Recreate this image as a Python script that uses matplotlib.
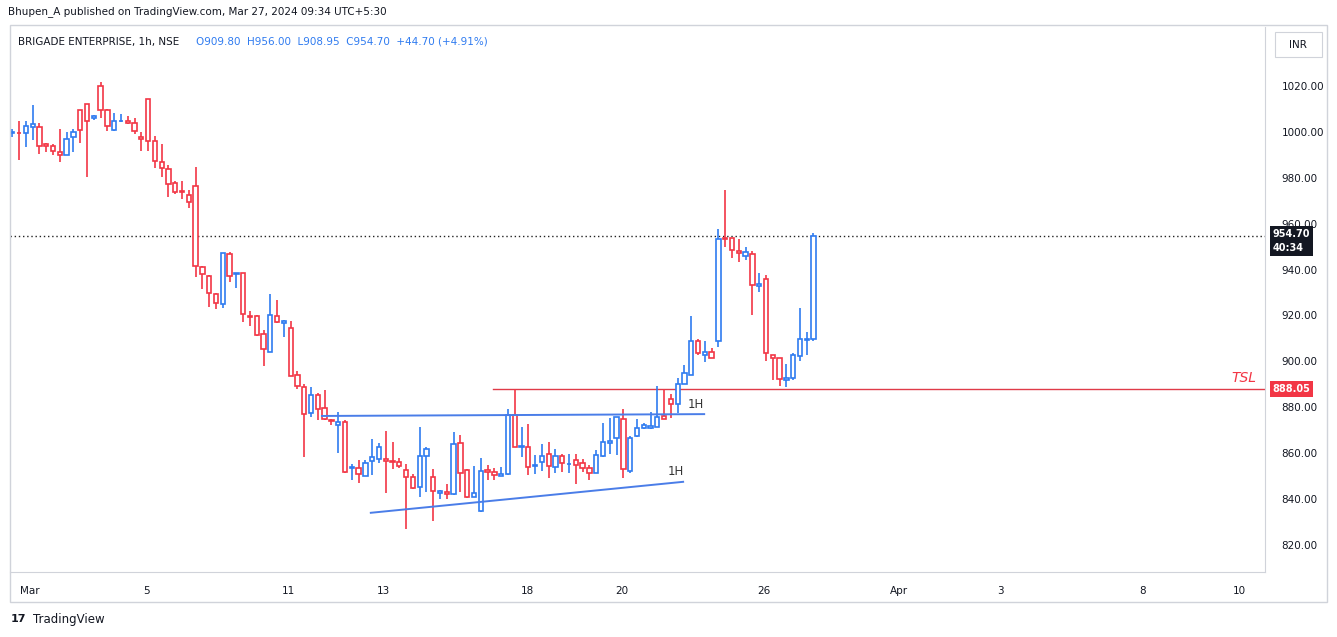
import numpy as np
import matplotlib.pyplot as plt
from matplotlib.patches import Rectangle

# hourly OHLC, BRIGADE ENTERPRISE
opens = [999.4, 999.4, 999.4, 1002.3, 1002.0, 994.6, 993.7, 991.1, 989.8, 997.6,
         1009.4, 1012.0, 1006.0, 1019.9, 1009.4, 1001.0, 1004.6, 1004.6, 1003.7, 997.8,
         1014.2, 995.9, 986.7, 983.7, 977.6, 974.0, 972.4, 976.3, 941.0, 937.1,
         929.2, 924.9, 946.7, 938.2, 938.4, 919.7, 919.6, 911.8, 903.9, 919.6,
         916.6, 914.4, 893.9, 888.7, 877.4, 885.2, 879.6, 874.5, 872.1, 873.4,
         853.4, 853.4, 849.9, 856.5, 857.3, 857.3, 856.5, 856.0, 852.5, 849.5,
         845.1, 858.6, 849.5, 842.5, 843.0, 842.1, 864.3, 852.5, 840.8, 834.7,
         852.5, 851.7, 849.9, 850.8, 876.4, 862.7, 862.6, 854.5, 856.1, 859.6,
         853.9, 858.7, 855.1, 856.9, 855.6, 853.4, 851.3, 858.7, 864.3, 866.5,
         874.8, 852.1, 867.4, 870.9, 870.9, 871.3, 876.1, 883.5, 881.3, 890.0,
         894.0, 908.8, 902.7, 903.9, 908.7, 953.6, 953.6, 947.9, 945.7, 946.6,
         932.7, 935.7, 902.6, 901.3, 891.7, 892.6, 902.2, 909.5, 909.8]
highs = [1001.3, 1004.8, 1004.8, 1011.7, 1003.7, 995.0, 994.6, 1001.3, 999.8, 1001.3,
         1009.4, 1012.0, 1007.4, 1021.6, 1009.8, 1008.1, 1007.7, 1006.8, 1006.0, 999.8,
         1014.2, 998.0, 994.7, 985.6, 978.5, 978.6, 974.5, 984.7, 941.4, 937.5,
         930.0, 947.1, 947.5, 938.4, 938.4, 921.9, 920.2, 913.7, 929.4, 926.8,
         917.9, 917.5, 895.7, 890.0, 888.7, 886.1, 887.4, 874.8, 877.8, 874.3,
         855.2, 856.9, 856.9, 866.0, 864.4, 869.7, 864.9, 857.8, 855.2, 850.8,
         871.4, 862.6, 853.0, 843.8, 846.4, 869.2, 867.8, 853.0, 854.3, 857.8,
         854.7, 853.4, 853.8, 879.1, 887.8, 871.4, 872.7, 859.0, 863.9, 864.8,
         861.7, 859.6, 859.6, 859.6, 857.4, 854.8, 861.3, 873.1, 875.2, 875.7,
         879.2, 867.4, 874.8, 873.1, 877.9, 889.2, 887.9, 885.7, 892.7, 898.3,
         919.8, 909.7, 908.8, 905.7, 957.5, 974.6, 953.6, 953.1, 949.7, 947.9,
         938.3, 937.5, 902.6, 901.3, 898.7, 903.5, 923.2, 912.6, 956.0]
lows = [997.9, 987.8, 993.6, 996.5, 990.5, 991.4, 990.0, 987.0, 989.8, 991.4,
        995.3, 980.5, 1005.2, 1006.2, 1000.5, 1000.5, 1004.2, 1003.6, 999.0, 991.7,
        991.7, 984.4, 980.5, 971.8, 973.1, 970.8, 967.0, 936.9, 931.4, 923.6,
        923.0, 923.4, 934.7, 932.1, 917.3, 915.6, 911.2, 898.1, 903.9, 916.6,
        910.8, 893.4, 888.1, 858.1, 875.6, 874.5, 874.3, 872.1, 859.9, 851.2,
        848.3, 846.9, 849.9, 850.6, 855.6, 842.8, 853.0, 853.4, 827.1, 844.3,
        841.1, 843.2, 830.6, 839.9, 840.2, 841.6, 843.0, 840.3, 840.8, 834.2,
        848.2, 848.5, 849.9, 850.4, 862.6, 858.2, 850.4, 850.8, 852.0, 849.1,
        851.3, 851.7, 851.5, 846.5, 851.7, 848.2, 851.3, 858.2, 859.6, 859.1,
        849.1, 851.3, 866.9, 870.4, 870.4, 871.3, 874.8, 875.2, 877.4, 890.0,
        894.0, 902.7, 899.6, 901.3, 906.1, 950.0, 944.9, 943.1, 944.0, 920.0,
        930.3, 900.0, 891.7, 889.1, 888.7, 891.7, 900.0, 902.6, 908.95]
closes = [999.4, 999.3, 1002.4, 1003.3, 993.7, 993.7, 991.5, 989.8, 996.8, 999.8,
          1000.7, 1004.6, 1006.9, 1009.4, 1002.4, 1004.6, 1004.7, 1003.7, 1000.3, 996.8,
          995.9, 987.2, 984.1, 977.2, 973.7, 973.7, 969.3, 941.4, 938.0, 929.7,
          925.3, 947.1, 937.1, 938.5, 920.5, 919.5, 911.6, 905.3, 920.1, 917.0,
          917.5, 893.8, 889.1, 876.9, 885.2, 879.1, 874.8, 873.9, 873.4, 851.7,
          853.5, 850.8, 855.6, 858.2, 862.6, 856.5, 856.0, 854.3, 849.5, 844.7,
          858.6, 861.7, 843.4, 843.4, 842.1, 863.9, 851.2, 840.8, 842.5, 852.1,
          851.7, 850.4, 850.8, 876.4, 862.6, 862.7, 853.8, 854.7, 858.7, 854.3,
          858.7, 855.6, 855.2, 854.8, 853.4, 851.3, 859.1, 864.8, 865.2, 875.7,
          853.0, 866.5, 870.9, 872.2, 871.8, 875.7, 874.8, 881.3, 890.0, 894.8,
          908.8, 903.6, 904.0, 901.3, 953.1, 953.4, 948.4, 947.0, 947.5, 933.1,
          933.5, 903.5, 901.3, 892.1, 892.6, 902.6, 909.6, 909.7, 954.7]

date_labels = ["Mar", "5", "11", "13", "18", "20", "26", "Apr", "3", "8", "10"]
date_pos = [2.6, 19.8, 40.7, 54.7, 75.8, 89.8, 110.7, 130.6, 145.6, 166.5, 180.7]
price_ticks = [820, 840, 860, 880, 900, 920, 940, 960, 980, 1000, 1020]

last_price = 954.70
tsl_price = 888.05
upper_trend = ([45.6, 101.9], [876.2, 877.0])
lower_trend = ([52.8, 98.8], [834.0, 847.5])

UP = "#2f7bf0"
DOWN = "#f23645"

fig = plt.figure(figsize=(13.37, 6.37), dpi=100)
W, H = 1337, 637
ax = fig.add_axes([10 / W, (H - 572) / H, (1265 - 10) / W, (572 - 27) / H])

x = np.arange(len(opens))
for i in x:
    o, h, l, c = opens[i], highs[i], lows[i], closes[i]
    col = UP if c >= o else DOWN
    ax.vlines(i, l, h, color=col, lw=1.2, zorder=2)
    bot = min(o, c)
    ht = max(abs(c - o), 0.35)
    ax.add_patch(Rectangle((i - 0.32, bot), 0.64, ht, facecolor="white",
                           edgecolor=col, lw=1.2, zorder=3))

ax.set_xlim(-0.34, 184.5)
ax.set_ylim(808.2, 1045.7)

# last price and stop line
ax.axhline(last_price, color="#222222", lw=1, ls=(0, (1, 2)), zorder=1)
ax.plot([70.8, 184.5], [tsl_price, tsl_price], color="#e03b48", lw=1, zorder=1)
ax.text(183.2, tsl_price + 1.5, "TSL", color="#f23645", fontsize=10,
        style="italic", ha="right", va="bottom")

ax.plot(*upper_trend, color="#4a7de8", lw=1.4, zorder=4)
ax.plot(*lower_trend, color="#4a7de8", lw=1.4, zorder=4)
ax.text(99.5, 879.5, "1H", fontsize=8.5, color="#333333")
ax.text(96.5, 850.3, "1H", fontsize=8.5, color="#333333")

ax.set_xticks(date_pos)
ax.set_xticklabels(date_labels, fontsize=7.5, color="#131722")
ax.set_yticks(price_ticks)
ax.set_yticklabels([f"{p:.2f}" for p in price_ticks], fontsize=7.5, color="#131722")
ax.yaxis.tick_right()
ax.tick_params(length=0, pad=10)
ax.tick_params(axis="y", pad=12)
for s in ["top", "left"]:
    ax.spines[s].set_visible(False)
ax.spines["bottom"].set_color("#d0d3da")
ax.spines["right"].set_color("#d0d3da")

# price tags on the axis
ax.text(185.6, last_price + 3.0, "954.70\n40:34", fontsize=7, color="white",
        fontweight="bold", va="top", ha="left", linespacing=1.5,
        bbox=dict(boxstyle="square,pad=0.3", fc="#131722", ec="none"),
        clip_on=False, zorder=5)
ax.text(185.6, tsl_price, "888.05", fontsize=7, color="white",
        fontweight="bold", va="center", ha="left",
        bbox=dict(boxstyle="square,pad=0.3", fc="#f23645", ec="none"),
        clip_on=False)

# outer frame
fig.add_artist(Rectangle((10 / W, (H - 602) / H), 1317 / W, 577 / H,
                         transform=fig.transFigure, fill=False, ec="#d0d3da", lw=1))
fig.add_artist(Rectangle((1275 / W, (H - 57) / H), 47 / W, 25 / H,
                         transform=fig.transFigure, fill=False, ec="#d0d3da", lw=0.8))
fig.text(1298 / W, (H - 45) / H, "INR", fontsize=7.5, ha="center", va="center",
         color="#131722")

fig.text(8 / W, (H - 12) / H, "Bhupen_A published on TradingView.com, Mar 27, 2024 09:34 UTC+5:30",
         fontsize=7.5, va="center", color="#131722")
fig.text(18 / W, (H - 42) / H, "BRIGADE ENTERPRISE, 1h, NSE", fontsize=7.5,
         va="center", color="#131722")
fig.text(196 / W, (H - 42) / H, "O909.80  H956.00  L908.95  C954.70  +44.70 (+4.91%)",
         fontsize=7.5, va="center", color="#2f7bf0")
fig.text(33 / W, (H - 619) / H, "TradingView", fontsize=8.5, va="center",
         color="#131722")
fig.text(11 / W, (H - 619) / H, "17", fontsize=8, va="center", fontweight="bold",
         color="#131722")

fig.savefig("out.png", dpi=100)
